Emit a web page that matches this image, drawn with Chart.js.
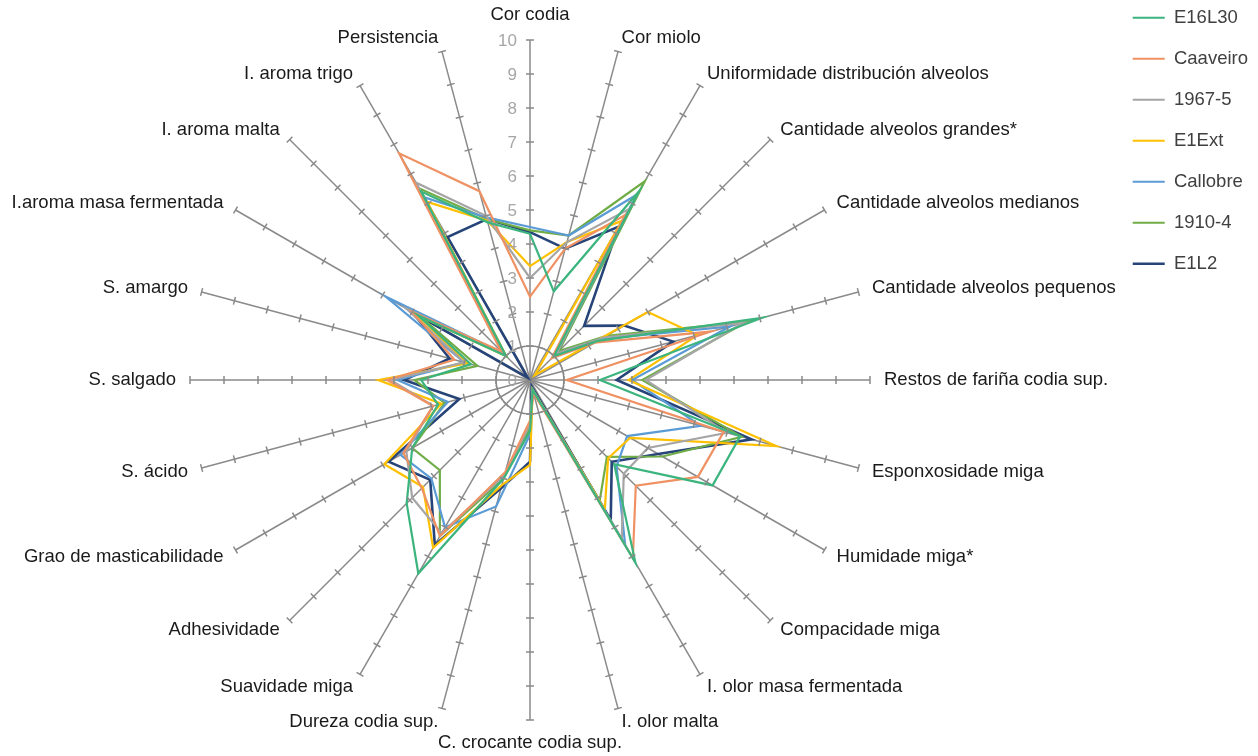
<!DOCTYPE html>
<html>
<head>
<meta charset="utf-8">
<script src="https://cdn.jsdelivr.net/npm/chart.js@4.4.0/dist/chart.umd.min.js"></script>
<style>
  html, body { margin: 0; padding: 0; background: #ffffff; }
  #wrap { width: 1258px; height: 756px; }
</style>
</head>
<body>
<div id="wrap"><canvas id="chart" width="1258" height="756"></canvas></div>
<script>
const labels = [
    "Cor codia", "Cor miolo", "Uniformidade distribución alveolos", "Cantidade alveolos grandes*",
    "Cantidade alveolos medianos", "Cantidade alveolos pequenos", "Restos de fariña codia sup.",
    "Esponxosidade miga", "Humidade miga*", "Compacidade miga", "I. olor masa fermentada",
    "I. olor malta", "C. crocante codia sup.", "Dureza codia sup.", "Suavidade miga",
    "Adhesividade", "Grao de masticabilidade", "S. ácido", "S. salgado", "S. amargo",
    "I.aroma masa fermentada", "I. aroma malta", "I. aroma trigo", "Persistencia"
];
const tickValues = [0, 1, 2, 3, 4, 5, 6, 7, 8, 9, 10];

const e16l30   = [4.3, 2.7, 6.4, 1.0, 2.3, 7.05, 2.06, 6.4, 6.2, 3.5, 6.2, 0.3, 1.5, 3.0, 6.57, 5.13, 4.0, 2.8, 3.2, 1.8, 3.8, 1.0, 6.4, 4.8];
const caaveiro = [2.45, 4.0, 5.6, 0.9, 2.2, 5.5, 1.08, 5.9, 5.7, 4.4, 6.05, 0.4, 1.2, 2.8, 5.3, 4.5, 4.3, 2.95, 4.2, 2.3, 4.0, 1.2, 7.7, 5.75];
const s1967_5  = [3.0, 4.2, 5.8, 1.1, 2.5, 6.5, 3.4, 6.0, 4.0, 3.9, 5.4, 0.3, 1.3, 2.9, 5.2, 4.9, 4.2, 2.95, 4.1, 2.0, 4.2, 1.1, 6.7, 5.0];
const e1ext    = [3.35, 4.2, 5.4, 0.2, 4.0, 5.1, 2.9, 7.5, 3.4, 3.25, 4.4, 0.3, 2.5, 3.2, 5.7, 4.45, 4.95, 2.7, 4.46, 1.9, 3.9, 1.0, 6.05, 4.85];
const callobre = [4.5, 4.4, 6.3, 1.1, 2.4, 6.1, 3.0, 5.2, 3.3, 3.6, 5.6, 0.3, 1.6, 3.85, 5.0, 4.1, 4.4, 2.5, 3.9, 2.0, 4.9, 1.1, 6.2, 4.95];
const s1910_4  = [4.4, 4.4, 6.75, 1.2, 2.6, 6.6, 3.3, 6.45, 4.5, 3.2, 4.1, 0.3, 1.4, 3.0, 5.3, 3.75, 4.0, 2.6, 3.4, 1.6, 3.7, 1.0, 6.5, 4.9];
const e1l2     = [4.35, 4.0, 5.2, 2.25, 3.2, 4.36, 2.55, 6.75, 4.35, 3.4, 4.75, 0.2, 2.4, 3.3, 5.6, 4.15, 4.8, 2.15, 3.7, 2.45, 4.0, 0.1, 4.85, 4.9];

const seriesNames  = ["E16L30", "Caaveiro", "1967-5", "E1Ext", "Callobre", "1910-4", "E1L2"];
const seriesValues = [e16l30, caaveiro, s1967_5, e1ext, callobre, s1910_4, e1l2];
const seriesColors = ["#3BB47E", "#EF9162", "#A5A5A5", "#FFC000", "#5B9BD5", "#70AD47", "#264478"];

const FONT = "'Liberation Sans', Arial, sans-serif";
const AXIS_GRAY = "#8a8a8a";

// tick marks along every spoke, numbers on the top spoke, and the spoke names
const spokeDecor = {
    id: "spokeDecor",
    afterDatasetsDraw(chart) {
        const r = chart.scales.r;
        const ctx = chart.ctx;
        const n = labels.length;
        ctx.save();
        ctx.strokeStyle = AXIS_GRAY;
        ctx.lineWidth = 1.5;
        for (let i = 0; i < n; i++) {
            const ang = r.getIndexAngle(i);
            const px = Math.cos(ang), py = Math.sin(ang);
            tickValues.forEach(v => {
                if (v === 0) return;
                const d = r.getDistanceFromCenterForValue(v);
                const p = r.getPointPosition(i, d);
                ctx.beginPath();
                ctx.moveTo(p.x - px * 4, p.y - py * 4);
                ctx.lineTo(p.x + px * 4, p.y + py * 4);
                ctx.stroke();
            });
        }
        // numbers on the first spoke
        ctx.fillStyle = "#a6a6a6";
        ctx.font = "17px " + FONT;
        ctx.textAlign = "right";
        ctx.textBaseline = "middle";
        tickValues.forEach(v => {
            const p = r.getPointPosition(0, r.getDistanceFromCenterForValue(v));
            ctx.fillText(String(v), p.x - 13, p.y + 1);
        });
        // spoke names
        ctx.fillStyle = "#1a1a1a";
        ctx.font = "18.5px " + FONT;
        for (let i = 0; i < n; i++) {
            const ang = r.getIndexAngle(i);
            const s = Math.sin(ang), c = Math.cos(ang);
            const p = r.getPointPosition(i, r.drawingArea + 14);
            let y = p.y;
            if (Math.abs(s) < 0.01) {
                ctx.textAlign = "center";
                y += c > 0 ? -11 : 9;
            } else {
                ctx.textAlign = s > 0 ? "left" : "right";
            }
            ctx.fillText(labels[i], p.x, y);
        }
        ctx.restore();
    }
};

new Chart(document.getElementById("chart"), {
    type: "radar",
    data: {
        labels: labels,
        datasets: seriesNames.map((name, k) => ({
            label: name,
            data: seriesValues[k],
            borderColor: seriesColors[k],
            backgroundColor: seriesColors[k],
            borderWidth: k === 6 ? 2.6 : 2.2,
            pointRadius: 0,
            fill: false,
            tension: 0
        }))
    },
    options: {
        responsive: false,
        animation: false,
        layout: { padding: { top: -14, right: 0 } },
        scales: {
            r: {
                min: 0,
                max: 10,
                ticks: { stepSize: 1, display: false },
                pointLabels: { display: false },
                angleLines: { color: AXIS_GRAY, lineWidth: 1.5 },
                grid: {
                    circular: true,
                    lineWidth: 1.5,
                    color: ctx => ctx.tick && ctx.tick.value === 1 ? AXIS_GRAY : "rgba(0,0,0,0)"
                },
                afterFit: scale => {
                    scale.xCenter = 530;
                    scale.yCenter = 380;
                    scale.drawingArea = 340;
                }
            }
        },
        plugins: {
            legend: {
                position: "right",
                align: "start",
                labels: {
                    usePointStyle: true,
                    pointStyle: "line",
                    pointStyleWidth: 32,
                    padding: 22.5,
                    color: "#404040",
                    font: { size: 18.5, family: FONT }
                }
            },
            tooltip: { enabled: false }
        }
    },
    plugins: [spokeDecor]
});
</script>
</body>
</html>
